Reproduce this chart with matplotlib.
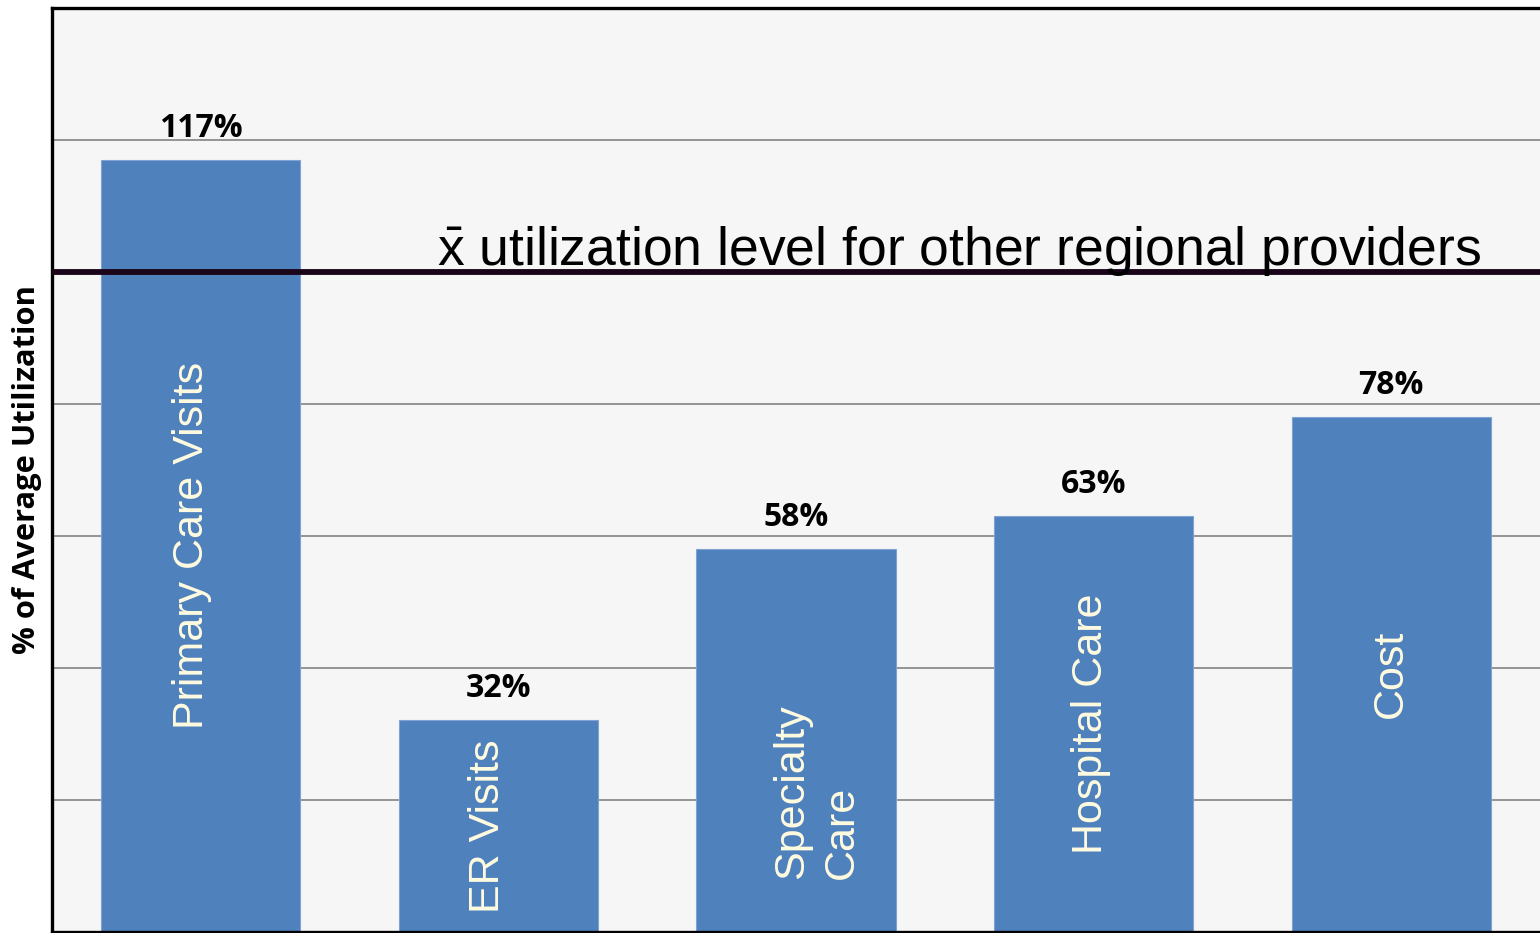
import matplotlib.pyplot as plt

# chart values
categories = ["Primary Care Visits", "ER Visits", "Specialty\nCare", "Hospital Care", "Cost"]
values = [117, 32, 58, 63, 78]
value_labels = ["117%", "32%", "58%", "63%", "78%"]
mean_level = 100
mean_label = r"$\bar{\mathrm{x}}$ utilization level for other regional providers"
y_label = "% of Average Utilization"

BAR_COLOR = "#4f81bd"
TEXT_IN_BAR = "#fffbe0"
# small nudges of the in-bar labels (x offset, y centre or None for half height)
LABEL_NUDGE = [(-0.03, None), (-0.035, None), (0.07, 21.2), (-0.01, None), (0.0, None)]

plt.rcParams["mathtext.fontset"] = "custom"
plt.rcParams["mathtext.rm"] = "Liberation Sans"
plt.rcParams["mathtext.it"] = "Liberation Sans:italic"
plt.rcParams["mathtext.bf"] = "Liberation Sans:bold"


def main():
    fig = plt.figure(figsize=(15.4, 9.33), dpi=100)
    ax = fig.add_axes([52 / 1540, 1.5 / 933, 1 - 52 / 1540, (931.5 - 8) / 933])
    ax.set_facecolor("#f6f6f6")

    x = list(range(len(categories)))
    ax.set_xlim(-0.5, 4.5)
    ax.set_ylim(0, 140)

    # gridlines
    ax.set_yticks([20, 40, 60, 80, 120])
    ax.yaxis.grid(True, color="#8c8c8c", linewidth=1.3)
    ax.set_axisbelow(True)
    ax.tick_params(left=False, bottom=False, labelleft=False, labelbottom=False)
    ax.set_xticks([])

    ax.bar(x, values, width=0.67, color=BAR_COLOR, edgecolor="#7fa3d3", linewidth=0.8, zorder=2)

    for xi, v, lab, cat, (dx, cy) in zip(x, values, value_labels, categories, LABEL_NUDGE):
        ax.text(xi, v + 2.3, lab, ha="center", va="bottom", fontsize=23,
                fontweight="bold", family="Open Sans", color="black", zorder=4)
        ly = v / 2 if cy is None else cy
        ax.text(xi + dx, ly, cat, rotation=90, ha="center", va="center", fontsize=31,
                family="Liberation Sans", color=TEXT_IN_BAR, multialignment="left",
                linespacing=1.3, zorder=4)

    # mean level line
    ax.axhline(mean_level, color="#1a0418", linewidth=4.2, zorder=3)
    ax.text(0.259, mean_level + 1.1, mean_label, transform=ax.get_yaxis_transform(),
            ha="left", va="baseline", fontsize=38.5,
            family="Liberation Sans", color="black", zorder=4)

    for side in ["left", "top", "bottom"]:
        ax.spines[side].set_color("black")
        ax.spines[side].set_linewidth(2.4)
    ax.spines["right"].set_visible(False)

    fig.text(27.5 / 1540, 0.5 - 3 / 933, y_label, rotation=90, ha="center", va="center",
             fontsize=22.2, fontweight="bold", family="Open Sans")

    fig.savefig("out.png", dpi=100, facecolor="white")
    plt.close(fig)


if __name__ == "__main__":
    main()
